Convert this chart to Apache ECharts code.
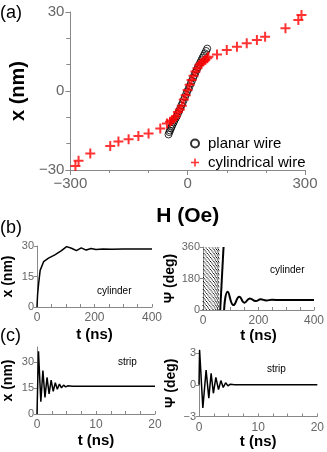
<!DOCTYPE html>
<html>
<head>
<meta charset="utf-8">
<script src="https://cdn.jsdelivr.net/npm/echarts@6/dist/echarts.min.js"></script>
<style>
html,body{margin:0;padding:0;background:#fff}
#chart{width:327px;height:452px}
</style>
</head>
<body>
<div id="chart"></div>
<script>
// (a) wall position vs field
const planarH = [-49,-47,-45,-43,-41,-39,-36,-34,-31,-28,-25,-22,-19,-16,-13,-10,-7,-4,-1,2,5,8,11,14,17,20,23,26,29,32,35,38,41,44,47,50]
const planarX = [-16.5,-15.6,-15.0,-14.2,-13.6,-12.8,-12.0,-11.2,-10.4,-9.6,-8.6,-7.6,-6.6,-5.5,-4.5,-3.4,-2.3,-1.2,-0.2,0.8,1.8,2.9,3.9,5.0,6.0,7.0,8.0,9.0,9.9,10.8,11.7,12.6,13.4,14.3,15.2,16.1]
const cylH = [-287,-279,-249,-198,-177,-151,-126,-100,-70,-53,-45,-40,-35,-30,-25,-20,-15,-10,-5,0,5,10,15,20,25,30,35,40,45,50,53,75,100,126,151,177,198,250,283,291]
const cylX = [-28.5,-26.5,-23.7,-20.9,-19.2,-18.3,-17.1,-16.1,-14.2,-12.3,-11.7,-11.2,-10.4,-9.6,-8.0,-7.0,-5.6,-3.2,-1.6,0.4,2.4,4.2,5.8,7.4,8.6,10.0,10.6,11.2,11.8,12.4,13.0,13.9,15.6,16.8,18.1,19.4,20.6,23.8,27.0,28.9]

// (b) cylinder
const cylT = [0,2,6,11,23,40,62,85,103,120,137,154,171,188,205,230,260,300,400]
const cylPos = [0,6,12,18,22.3,24,25.6,27.7,29.7,28.9,27.7,29.1,28,28.8,28.3,28.5,28.4,28.5,28.5]
const psiSpinT = [0,4,8,12,16,20,24,28,32,36,40,43,46,49,52,54,56,58]   // fast wrapping 0..360
const psiRiseT = [62,74]
const psiRise = [0,360]
const psiOscT = [76,89,110,131,149,169,190,208,228,248,280,400]
const psiOsc = [0,104,28,76,42,66,51,61,55,58,57,57]

// (c) strip
const stripT = [0,0.25,0.65,1.0,1.35,1.7,2.05,2.4,2.75,3.1,3.45,3.8,4.15,4.5,4.85,5.2,6,20]
const stripPos = [0,36,7,25,9.5,21,11.5,19.5,13,18,14.2,17.2,15,16.6,15.6,16.2,16,16]
const stripPsiT = [0,0.1,0.65,1.2,1.66,2.05,2.43,2.85,3.3,3.7,4.1,4.5,4.9,5.3,6,20]
const stripPsi = [0,3.3,-2.2,1.4,-1.26,1.1,-0.8,0.7,-0.45,0.4,-0.25,0.2,-0.1,0.06,0,0]

const zip = (a, b) => a.map((v, i) => [v, b[i]])
const font = 'Liberation Sans, Arial, sans-serif'
const gray = '#888'
const cross = 'path://M4,0H6V4H10V6H6V10H4V6H0V4H4Z'
const minus = v => v < 0 ? '\u2212' + (-v) : '' + v

// split the wrapping teeth in 3 groups so the dots don't line up
let spin = [[], [], []]
for (let i = 0; i < psiSpinT.length - 1; i++) {
  spin[i % 3].push([psiSpinT[i], 0], [psiSpinT[i + 1], 360], [psiSpinT[i + 1], '-'])
}

function xAx(i, max, step, gap){
  return {
    gridIndex: i, type: 'value', min: 0, max: max, interval: step,
    name: 't (ns)', nameLocation: 'middle', nameGap: gap,
    nameTextStyle: {fontSize: 15, fontWeight: 'bold', color: '#000', fontFamily: font},
    axisLine: {onZero: false, lineStyle: {color: gray}},
    axisTick: {inside: true, length: 3, lineStyle: {color: gray}},
    minorTick: {show: true, splitNumber: 4, length: 3, lineStyle: {color: gray}},
    splitLine: {show: false},
    axisLabel: {fontSize: 12, color: '#666', margin: 5, fontFamily: font}
  }
}
function yAx(i, min, max, step, name, gap){
  return {
    gridIndex: i, type: 'value', min: min, max: max, interval: step,
    name: name, nameLocation: 'middle', nameGap: gap,
    nameTextStyle: {fontSize: 14, fontWeight: 'bold', color: '#000', fontFamily: font},
    axisLine: {onZero: false, lineStyle: {color: gray}},
    axisTick: {length: 3, lineStyle: {color: gray}},
    splitLine: {show: false},
    axisLabel: {fontSize: 11, color: '#666', margin: 3, fontFamily: font, showMaxLabel: max % step == 0,
      formatter: minus}
  }
}
function txt(x, y, s, size){
  return {type: 'text', left: x, top: y, style: {text: s, fontSize: size, fontFamily: font, fill: '#000'}}
}
function spinSeries(d, k){
  return {type: 'line', xAxisIndex: 2, yAxisIndex: 2, data: d, showSymbol: false, connectNulls: false,
    lineStyle: {color: '#000', width: 1, type: [1, 3], dashOffset: k * 1.3}}
}

let option = {
  animation: false,
  backgroundColor: '#fff',
  grid: [
    {left: 70, top: 12, width: 235, height: 158},
    {left: 35, top: 246, width: 117, height: 61},
    {left: 203, top: 247, width: 112, height: 63},
    {left: 35, top: 347, width: 120, height: 67},
    {left: 199, top: 350, width: 121, height: 66.5}
  ],
  xAxis: [
    {
      gridIndex: 0, type: 'value', min: -300, max: 300, interval: 300,
      name: 'H (Oe)', nameLocation: 'middle', nameGap: 36,
      nameTextStyle: {fontSize: 21, fontWeight: 'bold', color: '#000', fontFamily: font},
      axisLine: {onZero: false, lineStyle: {color: gray}},
      axisTick: {length: 5, lineStyle: {color: gray}},
      minorTick: {show: true, splitNumber: 3, length: 3, lineStyle: {color: gray}},
      splitLine: {show: false},
      axisLabel: {fontSize: 15, color: '#666', margin: 6, fontFamily: font, formatter: minus}
    },
    xAx(1, 400, 200, 20), xAx(2, 400, 200, 17), xAx(3, 20, 10, 19), xAx(4, 20, 10, 16)
  ],
  yAxis: [
    {
      gridIndex: 0, type: 'value', min: -30, max: 30, interval: 30,
      name: 'x (nm)', nameLocation: 'middle', nameGap: 42,
      nameTextStyle: {fontSize: 20, fontWeight: 'bold', color: '#000', fontFamily: font},
      axisLine: {onZero: false, lineStyle: {color: gray}},
      axisTick: {length: 5, lineStyle: {color: gray}},
      minorTick: {show: true, splitNumber: 3, length: 4, lineStyle: {color: gray}},
      splitLine: {show: false},
      axisLabel: {fontSize: 15, color: '#666', margin: 6, fontFamily: font, formatter: minus}
    },
    yAx(1, 0, 30, 15, 'x (nm)', 22),
    yAx(2, 0, 360, 180, '\u03a8 (deg)', 26),
    yAx(3, 0, 38.5, 15, 'x (nm)', 22),
    yAx(4, -3, 3.3, 3, '\u03a8 (deg)', 21)
  ],
  legend: {
    orient: 'vertical', left: 185, top: 131, itemWidth: 8, itemHeight: 8, itemGap: 4,
    textStyle: {fontSize: 15, lineHeight: 15, color: '#000', fontFamily: font, padding: [0, 0, 0, 4]},
    data: [{name: 'planar wire', icon: 'circle'}, {name: 'cylindrical wire', icon: cross}]
  },
  graphic: [
    txt(0, 4, '(a)', 18), txt(0, 219, '(b)', 18), txt(0, 327, '(c)', 18),
    txt(97, 286, 'cylinder', 10), txt(270, 265, 'cylinder', 10),
    txt(118, 357, 'strip', 10), txt(267, 364, 'strip', 10)
  ],
  series: [
    {name: 'planar wire', type: 'scatter', xAxisIndex: 0, yAxisIndex: 0, data: zip(planarH, planarX),
      symbol: 'circle', symbolSize: 7, itemStyle: {color: 'rgba(0,0,0,0)', borderColor: '#000', borderWidth: 1}},
    {name: 'cylindrical wire', type: 'scatter', xAxisIndex: 0, yAxisIndex: 0, data: zip(cylH, cylX),
      symbol: cross, symbolSize: 10, itemStyle: {color: '#f00'}},
    {type: 'line', xAxisIndex: 1, yAxisIndex: 1, data: zip(cylT, cylPos), showSymbol: false,
      lineStyle: {color: '#000', width: 1.5}},
    spinSeries(spin[0], 0), spinSeries(spin[1], 1), spinSeries(spin[2], 2),
    {type: 'line', xAxisIndex: 2, yAxisIndex: 2, data: zip(psiRiseT, psiRise), showSymbol: false,
      lineStyle: {color: '#000', width: 2}},
    {type: 'line', xAxisIndex: 2, yAxisIndex: 2, data: zip(psiOscT, psiOsc), showSymbol: false, smooth: 0.5,
      lineStyle: {color: '#000', width: 2}},
    {type: 'line', xAxisIndex: 3, yAxisIndex: 3, data: zip(stripT, stripPos), showSymbol: false,
      lineStyle: {color: '#000', width: 1.5}},
    {type: 'line', xAxisIndex: 4, yAxisIndex: 4, data: zip(stripPsiT, stripPsi), showSymbol: false,
      lineStyle: {color: '#000', width: 1.5}}
  ]
}

let myChart = echarts.init(document.getElementById('chart'))
myChart.setOption(option)
</script>
</body>
</html>
